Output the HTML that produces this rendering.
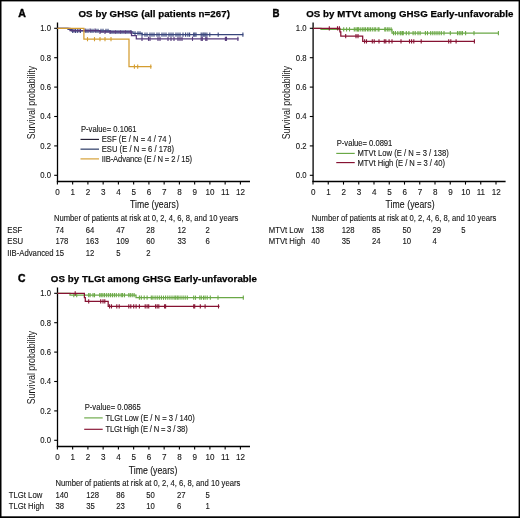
<!DOCTYPE html>
<html><head><meta charset="utf-8"><style>
html,body{margin:0;padding:0;background:#fff;}
svg{display:block;font-family:"Liberation Sans",sans-serif;filter:blur(0.3px);}
</style></head><body>
<svg width="520" height="518" viewBox="0 0 520 518">
<rect x="0" y="0" width="520" height="518" fill="#fff"/>
<text transform="translate(18.20,16.70) scale(0.9,1)" font-size="11.6" font-weight="bold" textLength="8.44" lengthAdjust="spacingAndGlyphs" fill="#000" stroke="#000" stroke-width="0.45">A</text>
<text transform="translate(78.50,17.30) scale(1.0,1)" font-size="9.7" font-weight="bold" textLength="151.40" lengthAdjust="spacing" fill="#000" stroke="#000" stroke-width="0.25">OS by GHSG (all patients n=267)</text>
<line x1="57.50" y1="22.50" x2="57.50" y2="182.10" stroke="#000" stroke-width="1.3"/>
<line x1="56.85" y1="181.50" x2="250.00" y2="181.50" stroke="#000" stroke-width="1.3"/>
<line x1="54.20" y1="175.30" x2="57.50" y2="175.30" stroke="#000" stroke-width="1.1"/>
<text transform="translate(51.00,178.15) scale(0.86,1)" font-size="9.0" text-anchor="end" fill="#151515" stroke="#151515" stroke-width="0.12">0.0</text>
<line x1="54.20" y1="145.90" x2="57.50" y2="145.90" stroke="#000" stroke-width="1.1"/>
<text transform="translate(51.00,148.75) scale(0.86,1)" font-size="9.0" text-anchor="end" fill="#151515" stroke="#151515" stroke-width="0.12">0.2</text>
<line x1="54.20" y1="116.50" x2="57.50" y2="116.50" stroke="#000" stroke-width="1.1"/>
<text transform="translate(51.00,119.35) scale(0.86,1)" font-size="9.0" text-anchor="end" fill="#151515" stroke="#151515" stroke-width="0.12">0.4</text>
<line x1="54.20" y1="87.10" x2="57.50" y2="87.10" stroke="#000" stroke-width="1.1"/>
<text transform="translate(51.00,89.95) scale(0.86,1)" font-size="9.0" text-anchor="end" fill="#151515" stroke="#151515" stroke-width="0.12">0.6</text>
<line x1="54.20" y1="57.70" x2="57.50" y2="57.70" stroke="#000" stroke-width="1.1"/>
<text transform="translate(51.00,60.55) scale(0.86,1)" font-size="9.0" text-anchor="end" fill="#151515" stroke="#151515" stroke-width="0.12">0.8</text>
<line x1="54.20" y1="28.30" x2="57.50" y2="28.30" stroke="#000" stroke-width="1.1"/>
<text transform="translate(51.00,31.15) scale(0.86,1)" font-size="9.0" text-anchor="end" fill="#151515" stroke="#151515" stroke-width="0.12">1.0</text>
<line x1="57.40" y1="181.50" x2="57.40" y2="184.60" stroke="#000" stroke-width="1.1"/>
<text transform="translate(57.55,195.00) scale(0.9,1)" font-size="9.0" text-anchor="middle" fill="#151515" stroke="#151515" stroke-width="0.12">0</text>
<line x1="72.65" y1="181.50" x2="72.65" y2="184.60" stroke="#000" stroke-width="1.1"/>
<text transform="translate(72.80,195.00) scale(0.9,1)" font-size="9.0" text-anchor="middle" fill="#151515" stroke="#151515" stroke-width="0.12">1</text>
<line x1="87.90" y1="181.50" x2="87.90" y2="184.60" stroke="#000" stroke-width="1.1"/>
<text transform="translate(88.05,195.00) scale(0.9,1)" font-size="9.0" text-anchor="middle" fill="#151515" stroke="#151515" stroke-width="0.12">2</text>
<line x1="103.15" y1="181.50" x2="103.15" y2="184.60" stroke="#000" stroke-width="1.1"/>
<text transform="translate(103.30,195.00) scale(0.9,1)" font-size="9.0" text-anchor="middle" fill="#151515" stroke="#151515" stroke-width="0.12">3</text>
<line x1="118.40" y1="181.50" x2="118.40" y2="184.60" stroke="#000" stroke-width="1.1"/>
<text transform="translate(118.55,195.00) scale(0.9,1)" font-size="9.0" text-anchor="middle" fill="#151515" stroke="#151515" stroke-width="0.12">4</text>
<line x1="133.65" y1="181.50" x2="133.65" y2="184.60" stroke="#000" stroke-width="1.1"/>
<text transform="translate(133.80,195.00) scale(0.9,1)" font-size="9.0" text-anchor="middle" fill="#151515" stroke="#151515" stroke-width="0.12">5</text>
<line x1="148.90" y1="181.50" x2="148.90" y2="184.60" stroke="#000" stroke-width="1.1"/>
<text transform="translate(149.05,195.00) scale(0.9,1)" font-size="9.0" text-anchor="middle" fill="#151515" stroke="#151515" stroke-width="0.12">6</text>
<line x1="164.15" y1="181.50" x2="164.15" y2="184.60" stroke="#000" stroke-width="1.1"/>
<text transform="translate(164.30,195.00) scale(0.9,1)" font-size="9.0" text-anchor="middle" fill="#151515" stroke="#151515" stroke-width="0.12">7</text>
<line x1="179.40" y1="181.50" x2="179.40" y2="184.60" stroke="#000" stroke-width="1.1"/>
<text transform="translate(179.55,195.00) scale(0.9,1)" font-size="9.0" text-anchor="middle" fill="#151515" stroke="#151515" stroke-width="0.12">8</text>
<line x1="194.65" y1="181.50" x2="194.65" y2="184.60" stroke="#000" stroke-width="1.1"/>
<text transform="translate(194.80,195.00) scale(0.9,1)" font-size="9.0" text-anchor="middle" fill="#151515" stroke="#151515" stroke-width="0.12">9</text>
<line x1="209.90" y1="181.50" x2="209.90" y2="184.60" stroke="#000" stroke-width="1.1"/>
<text transform="translate(210.05,195.00) scale(0.9,1)" font-size="9.0" text-anchor="middle" fill="#151515" stroke="#151515" stroke-width="0.12">10</text>
<line x1="225.15" y1="181.50" x2="225.15" y2="184.60" stroke="#000" stroke-width="1.1"/>
<text transform="translate(225.30,195.00) scale(0.9,1)" font-size="9.0" text-anchor="middle" fill="#151515" stroke="#151515" stroke-width="0.12">11</text>
<line x1="240.40" y1="181.50" x2="240.40" y2="184.60" stroke="#000" stroke-width="1.1"/>
<text transform="translate(240.55,195.00) scale(0.9,1)" font-size="9.0" text-anchor="middle" fill="#151515" stroke="#151515" stroke-width="0.12">12</text>
<text transform="translate(130.00,208.20) scale(0.85,1)" font-size="10.2" textLength="57.41" lengthAdjust="spacing" fill="#151515" stroke="#151515" stroke-width="0.12">Time (years)</text>
<text transform="translate(34.60,139.30) rotate(-90) scale(0.83,1)" font-size="10.2" textLength="88.55" lengthAdjust="spacingAndGlyphs" fill="#151515">Survival probability</text>
<path d="M57.40,28.30H68.00V29.33H71.50V30.80H110.00V31.98H133.00V33.45H142.00V34.62H243.30V34.62" fill="none" stroke="#38457c" stroke-width="1.25"/>
<line x1="72.70" y1="28.70" x2="72.70" y2="32.90" stroke="#38457c" stroke-width="1.1"/>
<line x1="75.40" y1="28.70" x2="75.40" y2="32.90" stroke="#38457c" stroke-width="1.1"/>
<line x1="77.30" y1="28.70" x2="77.30" y2="32.90" stroke="#38457c" stroke-width="1.1"/>
<line x1="80.40" y1="28.70" x2="80.40" y2="32.90" stroke="#38457c" stroke-width="1.1"/>
<line x1="86.00" y1="28.70" x2="86.00" y2="32.90" stroke="#38457c" stroke-width="1.1"/>
<line x1="88.00" y1="28.70" x2="88.00" y2="32.90" stroke="#38457c" stroke-width="1.1"/>
<line x1="91.00" y1="28.70" x2="91.00" y2="32.90" stroke="#38457c" stroke-width="1.1"/>
<line x1="93.00" y1="28.70" x2="93.00" y2="32.90" stroke="#38457c" stroke-width="1.1"/>
<line x1="96.00" y1="28.70" x2="96.00" y2="32.90" stroke="#38457c" stroke-width="1.1"/>
<line x1="98.00" y1="28.70" x2="98.00" y2="32.90" stroke="#38457c" stroke-width="1.1"/>
<line x1="101.00" y1="28.70" x2="101.00" y2="32.90" stroke="#38457c" stroke-width="1.1"/>
<line x1="103.00" y1="28.70" x2="103.00" y2="32.90" stroke="#38457c" stroke-width="1.1"/>
<line x1="106.00" y1="28.70" x2="106.00" y2="32.90" stroke="#38457c" stroke-width="1.1"/>
<line x1="108.00" y1="28.70" x2="108.00" y2="32.90" stroke="#38457c" stroke-width="1.1"/>
<line x1="111.00" y1="29.88" x2="111.00" y2="34.08" stroke="#38457c" stroke-width="1.1"/>
<line x1="113.00" y1="29.88" x2="113.00" y2="34.08" stroke="#38457c" stroke-width="1.1"/>
<line x1="116.00" y1="29.88" x2="116.00" y2="34.08" stroke="#38457c" stroke-width="1.1"/>
<line x1="118.00" y1="29.88" x2="118.00" y2="34.08" stroke="#38457c" stroke-width="1.1"/>
<line x1="121.00" y1="29.88" x2="121.00" y2="34.08" stroke="#38457c" stroke-width="1.1"/>
<line x1="123.00" y1="29.88" x2="123.00" y2="34.08" stroke="#38457c" stroke-width="1.1"/>
<line x1="126.00" y1="29.88" x2="126.00" y2="34.08" stroke="#38457c" stroke-width="1.1"/>
<line x1="128.00" y1="29.88" x2="128.00" y2="34.08" stroke="#38457c" stroke-width="1.1"/>
<line x1="131.00" y1="29.88" x2="131.00" y2="34.08" stroke="#38457c" stroke-width="1.1"/>
<line x1="135.00" y1="31.35" x2="135.00" y2="35.55" stroke="#38457c" stroke-width="1.1"/>
<line x1="138.00" y1="31.35" x2="138.00" y2="35.55" stroke="#38457c" stroke-width="1.1"/>
<line x1="140.00" y1="31.35" x2="140.00" y2="35.55" stroke="#38457c" stroke-width="1.1"/>
<line x1="142.00" y1="32.52" x2="142.00" y2="36.72" stroke="#38457c" stroke-width="1.1"/>
<line x1="145.00" y1="32.52" x2="145.00" y2="36.72" stroke="#38457c" stroke-width="1.1"/>
<line x1="147.00" y1="32.52" x2="147.00" y2="36.72" stroke="#38457c" stroke-width="1.1"/>
<line x1="150.00" y1="32.52" x2="150.00" y2="36.72" stroke="#38457c" stroke-width="1.1"/>
<line x1="152.00" y1="32.52" x2="152.00" y2="36.72" stroke="#38457c" stroke-width="1.1"/>
<line x1="154.00" y1="32.52" x2="154.00" y2="36.72" stroke="#38457c" stroke-width="1.1"/>
<line x1="157.00" y1="32.52" x2="157.00" y2="36.72" stroke="#38457c" stroke-width="1.1"/>
<line x1="159.00" y1="32.52" x2="159.00" y2="36.72" stroke="#38457c" stroke-width="1.1"/>
<line x1="162.00" y1="32.52" x2="162.00" y2="36.72" stroke="#38457c" stroke-width="1.1"/>
<line x1="164.00" y1="32.52" x2="164.00" y2="36.72" stroke="#38457c" stroke-width="1.1"/>
<line x1="166.00" y1="32.52" x2="166.00" y2="36.72" stroke="#38457c" stroke-width="1.1"/>
<line x1="169.00" y1="32.52" x2="169.00" y2="36.72" stroke="#38457c" stroke-width="1.1"/>
<line x1="171.00" y1="32.52" x2="171.00" y2="36.72" stroke="#38457c" stroke-width="1.1"/>
<line x1="173.00" y1="32.52" x2="173.00" y2="36.72" stroke="#38457c" stroke-width="1.1"/>
<line x1="176.00" y1="32.52" x2="176.00" y2="36.72" stroke="#38457c" stroke-width="1.1"/>
<line x1="178.00" y1="32.52" x2="178.00" y2="36.72" stroke="#38457c" stroke-width="1.1"/>
<line x1="180.00" y1="32.52" x2="180.00" y2="36.72" stroke="#38457c" stroke-width="1.1"/>
<line x1="183.00" y1="32.52" x2="183.00" y2="36.72" stroke="#38457c" stroke-width="1.1"/>
<line x1="185.60" y1="32.52" x2="185.60" y2="36.72" stroke="#38457c" stroke-width="1.1"/>
<line x1="187.90" y1="32.52" x2="187.90" y2="36.72" stroke="#38457c" stroke-width="1.1"/>
<line x1="189.60" y1="32.52" x2="189.60" y2="36.72" stroke="#38457c" stroke-width="1.1"/>
<line x1="193.70" y1="32.52" x2="193.70" y2="36.72" stroke="#38457c" stroke-width="1.1"/>
<line x1="194.80" y1="32.52" x2="194.80" y2="36.72" stroke="#38457c" stroke-width="1.1"/>
<line x1="196.00" y1="32.52" x2="196.00" y2="36.72" stroke="#38457c" stroke-width="1.1"/>
<line x1="201.20" y1="32.52" x2="201.20" y2="36.72" stroke="#38457c" stroke-width="1.1"/>
<line x1="202.90" y1="32.52" x2="202.90" y2="36.72" stroke="#38457c" stroke-width="1.1"/>
<line x1="204.00" y1="32.52" x2="204.00" y2="36.72" stroke="#38457c" stroke-width="1.1"/>
<line x1="205.20" y1="32.52" x2="205.20" y2="36.72" stroke="#38457c" stroke-width="1.1"/>
<line x1="206.90" y1="32.52" x2="206.90" y2="36.72" stroke="#38457c" stroke-width="1.1"/>
<line x1="209.80" y1="32.52" x2="209.80" y2="36.72" stroke="#38457c" stroke-width="1.1"/>
<line x1="218.20" y1="32.52" x2="218.20" y2="36.72" stroke="#38457c" stroke-width="1.1"/>
<line x1="242.90" y1="32.52" x2="242.90" y2="36.72" stroke="#38457c" stroke-width="1.1"/>
<path d="M57.40,28.30H70.00V30.51H100.00V31.98H131.50V35.65H136.30V38.78H238.60V38.78" fill="none" stroke="#553a7c" stroke-width="1.25"/>
<line x1="74.00" y1="28.41" x2="74.00" y2="32.61" stroke="#553a7c" stroke-width="1.1"/>
<line x1="79.00" y1="28.41" x2="79.00" y2="32.61" stroke="#553a7c" stroke-width="1.1"/>
<line x1="85.00" y1="28.41" x2="85.00" y2="32.61" stroke="#553a7c" stroke-width="1.1"/>
<line x1="90.00" y1="28.41" x2="90.00" y2="32.61" stroke="#553a7c" stroke-width="1.1"/>
<line x1="95.00" y1="28.41" x2="95.00" y2="32.61" stroke="#553a7c" stroke-width="1.1"/>
<line x1="100.00" y1="29.88" x2="100.00" y2="34.08" stroke="#553a7c" stroke-width="1.1"/>
<line x1="105.00" y1="29.88" x2="105.00" y2="34.08" stroke="#553a7c" stroke-width="1.1"/>
<line x1="110.00" y1="29.88" x2="110.00" y2="34.08" stroke="#553a7c" stroke-width="1.1"/>
<line x1="115.00" y1="29.88" x2="115.00" y2="34.08" stroke="#553a7c" stroke-width="1.1"/>
<line x1="120.00" y1="29.88" x2="120.00" y2="34.08" stroke="#553a7c" stroke-width="1.1"/>
<line x1="125.00" y1="29.88" x2="125.00" y2="34.08" stroke="#553a7c" stroke-width="1.1"/>
<line x1="130.00" y1="29.88" x2="130.00" y2="34.08" stroke="#553a7c" stroke-width="1.1"/>
<line x1="142.00" y1="36.68" x2="142.00" y2="40.88" stroke="#553a7c" stroke-width="1.1"/>
<line x1="148.50" y1="36.68" x2="148.50" y2="40.88" stroke="#553a7c" stroke-width="1.1"/>
<line x1="150.00" y1="36.68" x2="150.00" y2="40.88" stroke="#553a7c" stroke-width="1.1"/>
<line x1="158.00" y1="36.68" x2="158.00" y2="40.88" stroke="#553a7c" stroke-width="1.1"/>
<line x1="160.00" y1="36.68" x2="160.00" y2="40.88" stroke="#553a7c" stroke-width="1.1"/>
<line x1="168.00" y1="36.68" x2="168.00" y2="40.88" stroke="#553a7c" stroke-width="1.1"/>
<line x1="171.00" y1="36.68" x2="171.00" y2="40.88" stroke="#553a7c" stroke-width="1.1"/>
<line x1="174.00" y1="36.68" x2="174.00" y2="40.88" stroke="#553a7c" stroke-width="1.1"/>
<line x1="178.00" y1="36.68" x2="178.00" y2="40.88" stroke="#553a7c" stroke-width="1.1"/>
<line x1="180.00" y1="36.68" x2="180.00" y2="40.88" stroke="#553a7c" stroke-width="1.1"/>
<line x1="182.00" y1="36.68" x2="182.00" y2="40.88" stroke="#553a7c" stroke-width="1.1"/>
<line x1="192.50" y1="36.68" x2="192.50" y2="40.88" stroke="#553a7c" stroke-width="1.1"/>
<line x1="201.20" y1="36.68" x2="201.20" y2="40.88" stroke="#553a7c" stroke-width="1.1"/>
<line x1="202.30" y1="36.68" x2="202.30" y2="40.88" stroke="#553a7c" stroke-width="1.1"/>
<line x1="205.80" y1="36.68" x2="205.80" y2="40.88" stroke="#553a7c" stroke-width="1.1"/>
<line x1="206.90" y1="36.68" x2="206.90" y2="40.88" stroke="#553a7c" stroke-width="1.1"/>
<line x1="225.40" y1="36.68" x2="225.40" y2="40.88" stroke="#553a7c" stroke-width="1.1"/>
<line x1="226.50" y1="36.68" x2="226.50" y2="40.88" stroke="#553a7c" stroke-width="1.1"/>
<line x1="237.90" y1="36.68" x2="237.90" y2="40.88" stroke="#553a7c" stroke-width="1.1"/>
<path d="M57.40,28.30H83.90V39.18H129.00V66.67H151.50V66.67" fill="none" stroke="#d49d30" stroke-width="1.25"/>
<line x1="87.50" y1="37.08" x2="87.50" y2="41.28" stroke="#d49d30" stroke-width="1.1"/>
<line x1="94.50" y1="37.08" x2="94.50" y2="41.28" stroke="#d49d30" stroke-width="1.1"/>
<line x1="100.00" y1="37.08" x2="100.00" y2="41.28" stroke="#d49d30" stroke-width="1.1"/>
<line x1="105.00" y1="37.08" x2="105.00" y2="41.28" stroke="#d49d30" stroke-width="1.1"/>
<line x1="111.00" y1="37.08" x2="111.00" y2="41.28" stroke="#d49d30" stroke-width="1.1"/>
<line x1="134.40" y1="64.57" x2="134.40" y2="68.77" stroke="#d49d30" stroke-width="1.1"/>
<line x1="137.70" y1="64.57" x2="137.70" y2="68.77" stroke="#d49d30" stroke-width="1.1"/>
<line x1="150.80" y1="64.57" x2="150.80" y2="68.77" stroke="#d49d30" stroke-width="1.1"/>
<text transform="translate(81.00,132.10) scale(0.85,1)" font-size="9.0" textLength="65.41" lengthAdjust="spacing" fill="#151515" stroke="#151515" stroke-width="0.12">P-value= 0.1061</text>
<line x1="80.50" y1="139.40" x2="99.00" y2="139.40" stroke="#252035" stroke-width="1.15"/>
<text transform="translate(101.70,142.40) scale(0.85,1)" font-size="9.0" textLength="81.88" lengthAdjust="spacing" fill="#151515" stroke="#151515" stroke-width="0.12">ESF (E / N = 4 / 74 )</text>
<line x1="80.50" y1="149.15" x2="99.00" y2="149.15" stroke="#223260" stroke-width="1.15"/>
<text transform="translate(101.70,152.15) scale(0.85,1)" font-size="9.0" textLength="85.18" lengthAdjust="spacing" fill="#151515" stroke="#151515" stroke-width="0.12">ESU (E / N = 6 / 178)</text>
<line x1="80.50" y1="158.90" x2="99.00" y2="158.90" stroke="#d49d30" stroke-width="1.15"/>
<text transform="translate(101.70,161.90) scale(0.85,1)" font-size="9.0" textLength="106.35" lengthAdjust="spacing" fill="#151515" stroke="#151515" stroke-width="0.12">IIB-Advance (E / N = 2 / 15)</text>
<text transform="translate(54.00,221.30) scale(0.85,1)" font-size="9.0" textLength="216.82" lengthAdjust="spacing" fill="#151515" stroke="#151515" stroke-width="0.12">Number of patients at risk at 0, 2, 4, 6, 8, and 10 years</text>
<text transform="translate(7.30,232.60) scale(0.86,1)" font-size="9.0" fill="#151515" stroke="#151515" stroke-width="0.12">ESF</text>
<text transform="translate(55.50,232.60) scale(0.86,1)" font-size="9.0" fill="#151515" stroke="#151515" stroke-width="0.12">74</text>
<text transform="translate(85.80,232.60) scale(0.86,1)" font-size="9.0" fill="#151515" stroke="#151515" stroke-width="0.12">64</text>
<text transform="translate(116.20,232.60) scale(0.86,1)" font-size="9.0" fill="#151515" stroke="#151515" stroke-width="0.12">47</text>
<text transform="translate(146.30,232.60) scale(0.86,1)" font-size="9.0" fill="#151515" stroke="#151515" stroke-width="0.12">28</text>
<text transform="translate(177.50,232.60) scale(0.86,1)" font-size="9.0" fill="#151515" stroke="#151515" stroke-width="0.12">12</text>
<text transform="translate(205.60,232.60) scale(0.86,1)" font-size="9.0" fill="#151515" stroke="#151515" stroke-width="0.12">2</text>
<text transform="translate(7.30,244.35) scale(0.86,1)" font-size="9.0" fill="#151515" stroke="#151515" stroke-width="0.12">ESU</text>
<text transform="translate(55.50,244.35) scale(0.86,1)" font-size="9.0" fill="#151515" stroke="#151515" stroke-width="0.12">178</text>
<text transform="translate(85.80,244.35) scale(0.86,1)" font-size="9.0" fill="#151515" stroke="#151515" stroke-width="0.12">163</text>
<text transform="translate(116.20,244.35) scale(0.86,1)" font-size="9.0" fill="#151515" stroke="#151515" stroke-width="0.12">109</text>
<text transform="translate(146.30,244.35) scale(0.86,1)" font-size="9.0" fill="#151515" stroke="#151515" stroke-width="0.12">60</text>
<text transform="translate(177.50,244.35) scale(0.86,1)" font-size="9.0" fill="#151515" stroke="#151515" stroke-width="0.12">33</text>
<text transform="translate(205.60,244.35) scale(0.86,1)" font-size="9.0" fill="#151515" stroke="#151515" stroke-width="0.12">6</text>
<text transform="translate(7.30,256.10) scale(0.86,1)" font-size="9.0" fill="#151515" stroke="#151515" stroke-width="0.12">IIB-Advanced</text>
<text transform="translate(55.50,256.10) scale(0.86,1)" font-size="9.0" fill="#151515" stroke="#151515" stroke-width="0.12">15</text>
<text transform="translate(85.80,256.10) scale(0.86,1)" font-size="9.0" fill="#151515" stroke="#151515" stroke-width="0.12">12</text>
<text transform="translate(116.20,256.10) scale(0.86,1)" font-size="9.0" fill="#151515" stroke="#151515" stroke-width="0.12">5</text>
<text transform="translate(146.30,256.10) scale(0.86,1)" font-size="9.0" fill="#151515" stroke="#151515" stroke-width="0.12">2</text>
<text transform="translate(272.50,16.70) scale(0.9,1)" font-size="11.6" font-weight="bold" textLength="7.78" lengthAdjust="spacingAndGlyphs" fill="#000" stroke="#000" stroke-width="0.45">B</text>
<text transform="translate(306.20,17.30) scale(1.0,1)" font-size="9.7" font-weight="bold" textLength="207.30" lengthAdjust="spacing" fill="#000" stroke="#000" stroke-width="0.25">OS by MTVt among GHSG Early-unfavorable</text>
<line x1="313.10" y1="22.50" x2="313.10" y2="182.10" stroke="#000" stroke-width="1.3"/>
<line x1="312.45" y1="181.50" x2="505.60" y2="181.50" stroke="#000" stroke-width="1.3"/>
<line x1="309.80" y1="175.30" x2="313.10" y2="175.30" stroke="#000" stroke-width="1.1"/>
<text transform="translate(306.60,178.15) scale(0.86,1)" font-size="9.0" text-anchor="end" fill="#151515" stroke="#151515" stroke-width="0.12">0.0</text>
<line x1="309.80" y1="145.90" x2="313.10" y2="145.90" stroke="#000" stroke-width="1.1"/>
<text transform="translate(306.60,148.75) scale(0.86,1)" font-size="9.0" text-anchor="end" fill="#151515" stroke="#151515" stroke-width="0.12">0.2</text>
<line x1="309.80" y1="116.50" x2="313.10" y2="116.50" stroke="#000" stroke-width="1.1"/>
<text transform="translate(306.60,119.35) scale(0.86,1)" font-size="9.0" text-anchor="end" fill="#151515" stroke="#151515" stroke-width="0.12">0.4</text>
<line x1="309.80" y1="87.10" x2="313.10" y2="87.10" stroke="#000" stroke-width="1.1"/>
<text transform="translate(306.60,89.95) scale(0.86,1)" font-size="9.0" text-anchor="end" fill="#151515" stroke="#151515" stroke-width="0.12">0.6</text>
<line x1="309.80" y1="57.70" x2="313.10" y2="57.70" stroke="#000" stroke-width="1.1"/>
<text transform="translate(306.60,60.55) scale(0.86,1)" font-size="9.0" text-anchor="end" fill="#151515" stroke="#151515" stroke-width="0.12">0.8</text>
<line x1="309.80" y1="28.30" x2="313.10" y2="28.30" stroke="#000" stroke-width="1.1"/>
<text transform="translate(306.60,31.15) scale(0.86,1)" font-size="9.0" text-anchor="end" fill="#151515" stroke="#151515" stroke-width="0.12">1.0</text>
<line x1="313.00" y1="181.50" x2="313.00" y2="184.60" stroke="#000" stroke-width="1.1"/>
<text transform="translate(313.15,195.00) scale(0.9,1)" font-size="9.0" text-anchor="middle" fill="#151515" stroke="#151515" stroke-width="0.12">0</text>
<line x1="328.25" y1="181.50" x2="328.25" y2="184.60" stroke="#000" stroke-width="1.1"/>
<text transform="translate(328.40,195.00) scale(0.9,1)" font-size="9.0" text-anchor="middle" fill="#151515" stroke="#151515" stroke-width="0.12">1</text>
<line x1="343.50" y1="181.50" x2="343.50" y2="184.60" stroke="#000" stroke-width="1.1"/>
<text transform="translate(343.65,195.00) scale(0.9,1)" font-size="9.0" text-anchor="middle" fill="#151515" stroke="#151515" stroke-width="0.12">2</text>
<line x1="358.75" y1="181.50" x2="358.75" y2="184.60" stroke="#000" stroke-width="1.1"/>
<text transform="translate(358.90,195.00) scale(0.9,1)" font-size="9.0" text-anchor="middle" fill="#151515" stroke="#151515" stroke-width="0.12">3</text>
<line x1="374.00" y1="181.50" x2="374.00" y2="184.60" stroke="#000" stroke-width="1.1"/>
<text transform="translate(374.15,195.00) scale(0.9,1)" font-size="9.0" text-anchor="middle" fill="#151515" stroke="#151515" stroke-width="0.12">4</text>
<line x1="389.25" y1="181.50" x2="389.25" y2="184.60" stroke="#000" stroke-width="1.1"/>
<text transform="translate(389.40,195.00) scale(0.9,1)" font-size="9.0" text-anchor="middle" fill="#151515" stroke="#151515" stroke-width="0.12">5</text>
<line x1="404.50" y1="181.50" x2="404.50" y2="184.60" stroke="#000" stroke-width="1.1"/>
<text transform="translate(404.65,195.00) scale(0.9,1)" font-size="9.0" text-anchor="middle" fill="#151515" stroke="#151515" stroke-width="0.12">6</text>
<line x1="419.75" y1="181.50" x2="419.75" y2="184.60" stroke="#000" stroke-width="1.1"/>
<text transform="translate(419.90,195.00) scale(0.9,1)" font-size="9.0" text-anchor="middle" fill="#151515" stroke="#151515" stroke-width="0.12">7</text>
<line x1="435.00" y1="181.50" x2="435.00" y2="184.60" stroke="#000" stroke-width="1.1"/>
<text transform="translate(435.15,195.00) scale(0.9,1)" font-size="9.0" text-anchor="middle" fill="#151515" stroke="#151515" stroke-width="0.12">8</text>
<line x1="450.25" y1="181.50" x2="450.25" y2="184.60" stroke="#000" stroke-width="1.1"/>
<text transform="translate(450.40,195.00) scale(0.9,1)" font-size="9.0" text-anchor="middle" fill="#151515" stroke="#151515" stroke-width="0.12">9</text>
<line x1="465.50" y1="181.50" x2="465.50" y2="184.60" stroke="#000" stroke-width="1.1"/>
<text transform="translate(465.65,195.00) scale(0.9,1)" font-size="9.0" text-anchor="middle" fill="#151515" stroke="#151515" stroke-width="0.12">10</text>
<line x1="480.75" y1="181.50" x2="480.75" y2="184.60" stroke="#000" stroke-width="1.1"/>
<text transform="translate(480.90,195.00) scale(0.9,1)" font-size="9.0" text-anchor="middle" fill="#151515" stroke="#151515" stroke-width="0.12">11</text>
<line x1="496.00" y1="181.50" x2="496.00" y2="184.60" stroke="#000" stroke-width="1.1"/>
<text transform="translate(496.15,195.00) scale(0.9,1)" font-size="9.0" text-anchor="middle" fill="#151515" stroke="#151515" stroke-width="0.12">12</text>
<text transform="translate(385.50,208.20) scale(0.85,1)" font-size="10.2" textLength="57.76" lengthAdjust="spacing" fill="#151515" stroke="#151515" stroke-width="0.12">Time (years)</text>
<text transform="translate(290.20,139.30) rotate(-90) scale(0.83,1)" font-size="10.2" textLength="88.55" lengthAdjust="spacingAndGlyphs" fill="#151515">Survival probability</text>
<path d="M313.00,28.30H321.00V29.33H392.00V33.15H498.60V33.15" fill="none" stroke="#6aa846" stroke-width="1.25"/>
<line x1="343.70" y1="27.23" x2="343.70" y2="31.43" stroke="#6aa846" stroke-width="1.1"/>
<line x1="346.60" y1="27.23" x2="346.60" y2="31.43" stroke="#6aa846" stroke-width="1.1"/>
<line x1="349.50" y1="27.23" x2="349.50" y2="31.43" stroke="#6aa846" stroke-width="1.1"/>
<line x1="354.30" y1="27.23" x2="354.30" y2="31.43" stroke="#6aa846" stroke-width="1.1"/>
<line x1="356.00" y1="27.23" x2="356.00" y2="31.43" stroke="#6aa846" stroke-width="1.1"/>
<line x1="357.40" y1="27.23" x2="357.40" y2="31.43" stroke="#6aa846" stroke-width="1.1"/>
<line x1="358.20" y1="27.23" x2="358.20" y2="31.43" stroke="#6aa846" stroke-width="1.1"/>
<line x1="358.80" y1="27.23" x2="358.80" y2="31.43" stroke="#6aa846" stroke-width="1.1"/>
<line x1="360.80" y1="27.23" x2="360.80" y2="31.43" stroke="#6aa846" stroke-width="1.1"/>
<line x1="362.70" y1="27.23" x2="362.70" y2="31.43" stroke="#6aa846" stroke-width="1.1"/>
<line x1="364.10" y1="27.23" x2="364.10" y2="31.43" stroke="#6aa846" stroke-width="1.1"/>
<line x1="365.60" y1="27.23" x2="365.60" y2="31.43" stroke="#6aa846" stroke-width="1.1"/>
<line x1="367.50" y1="27.23" x2="367.50" y2="31.43" stroke="#6aa846" stroke-width="1.1"/>
<line x1="368.90" y1="27.23" x2="368.90" y2="31.43" stroke="#6aa846" stroke-width="1.1"/>
<line x1="370.40" y1="27.23" x2="370.40" y2="31.43" stroke="#6aa846" stroke-width="1.1"/>
<line x1="372.30" y1="27.23" x2="372.30" y2="31.43" stroke="#6aa846" stroke-width="1.1"/>
<line x1="374.20" y1="27.23" x2="374.20" y2="31.43" stroke="#6aa846" stroke-width="1.1"/>
<line x1="375.70" y1="27.23" x2="375.70" y2="31.43" stroke="#6aa846" stroke-width="1.1"/>
<line x1="378.10" y1="27.23" x2="378.10" y2="31.43" stroke="#6aa846" stroke-width="1.1"/>
<line x1="379.00" y1="27.23" x2="379.00" y2="31.43" stroke="#6aa846" stroke-width="1.1"/>
<line x1="384.80" y1="27.23" x2="384.80" y2="31.43" stroke="#6aa846" stroke-width="1.1"/>
<line x1="385.80" y1="27.23" x2="385.80" y2="31.43" stroke="#6aa846" stroke-width="1.1"/>
<line x1="387.70" y1="27.23" x2="387.70" y2="31.43" stroke="#6aa846" stroke-width="1.1"/>
<line x1="389.10" y1="27.23" x2="389.10" y2="31.43" stroke="#6aa846" stroke-width="1.1"/>
<line x1="391.10" y1="27.23" x2="391.10" y2="31.43" stroke="#6aa846" stroke-width="1.1"/>
<line x1="393.50" y1="31.05" x2="393.50" y2="35.25" stroke="#6aa846" stroke-width="1.1"/>
<line x1="395.40" y1="31.05" x2="395.40" y2="35.25" stroke="#6aa846" stroke-width="1.1"/>
<line x1="397.80" y1="31.05" x2="397.80" y2="35.25" stroke="#6aa846" stroke-width="1.1"/>
<line x1="400.20" y1="31.05" x2="400.20" y2="35.25" stroke="#6aa846" stroke-width="1.1"/>
<line x1="401.00" y1="31.05" x2="401.00" y2="35.25" stroke="#6aa846" stroke-width="1.1"/>
<line x1="402.60" y1="31.05" x2="402.60" y2="35.25" stroke="#6aa846" stroke-width="1.1"/>
<line x1="403.20" y1="31.05" x2="403.20" y2="35.25" stroke="#6aa846" stroke-width="1.1"/>
<line x1="406.30" y1="31.05" x2="406.30" y2="35.25" stroke="#6aa846" stroke-width="1.1"/>
<line x1="408.90" y1="31.05" x2="408.90" y2="35.25" stroke="#6aa846" stroke-width="1.1"/>
<line x1="413.10" y1="31.05" x2="413.10" y2="35.25" stroke="#6aa846" stroke-width="1.1"/>
<line x1="415.20" y1="31.05" x2="415.20" y2="35.25" stroke="#6aa846" stroke-width="1.1"/>
<line x1="418.00" y1="31.05" x2="418.00" y2="35.25" stroke="#6aa846" stroke-width="1.1"/>
<line x1="420.10" y1="31.05" x2="420.10" y2="35.25" stroke="#6aa846" stroke-width="1.1"/>
<line x1="425.40" y1="31.05" x2="425.40" y2="35.25" stroke="#6aa846" stroke-width="1.1"/>
<line x1="427.50" y1="31.05" x2="427.50" y2="35.25" stroke="#6aa846" stroke-width="1.1"/>
<line x1="430.70" y1="31.05" x2="430.70" y2="35.25" stroke="#6aa846" stroke-width="1.1"/>
<line x1="432.80" y1="31.05" x2="432.80" y2="35.25" stroke="#6aa846" stroke-width="1.1"/>
<line x1="434.90" y1="31.05" x2="434.90" y2="35.25" stroke="#6aa846" stroke-width="1.1"/>
<line x1="437.00" y1="31.05" x2="437.00" y2="35.25" stroke="#6aa846" stroke-width="1.1"/>
<line x1="439.10" y1="31.05" x2="439.10" y2="35.25" stroke="#6aa846" stroke-width="1.1"/>
<line x1="441.30" y1="31.05" x2="441.30" y2="35.25" stroke="#6aa846" stroke-width="1.1"/>
<line x1="444.00" y1="31.05" x2="444.00" y2="35.25" stroke="#6aa846" stroke-width="1.1"/>
<line x1="450.30" y1="31.05" x2="450.30" y2="35.25" stroke="#6aa846" stroke-width="1.1"/>
<line x1="457.50" y1="31.05" x2="457.50" y2="35.25" stroke="#6aa846" stroke-width="1.1"/>
<line x1="459.20" y1="31.05" x2="459.20" y2="35.25" stroke="#6aa846" stroke-width="1.1"/>
<line x1="460.90" y1="31.05" x2="460.90" y2="35.25" stroke="#6aa846" stroke-width="1.1"/>
<line x1="462.40" y1="31.05" x2="462.40" y2="35.25" stroke="#6aa846" stroke-width="1.1"/>
<line x1="465.60" y1="31.05" x2="465.60" y2="35.25" stroke="#6aa846" stroke-width="1.1"/>
<line x1="474.00" y1="31.05" x2="474.00" y2="35.25" stroke="#6aa846" stroke-width="1.1"/>
<line x1="498.40" y1="31.05" x2="498.40" y2="35.25" stroke="#6aa846" stroke-width="1.1"/>
<path d="M313.00,28.30H339.90V31.98H340.80V36.09H362.70V41.38H474.60V41.38" fill="none" stroke="#861232" stroke-width="1.25"/>
<line x1="329.30" y1="26.20" x2="329.30" y2="30.40" stroke="#861232" stroke-width="1.1"/>
<line x1="337.50" y1="26.20" x2="337.50" y2="30.40" stroke="#861232" stroke-width="1.1"/>
<line x1="339.40" y1="26.20" x2="339.40" y2="30.40" stroke="#861232" stroke-width="1.1"/>
<line x1="345.70" y1="33.99" x2="345.70" y2="38.19" stroke="#861232" stroke-width="1.1"/>
<line x1="356.00" y1="33.99" x2="356.00" y2="38.19" stroke="#861232" stroke-width="1.1"/>
<line x1="358.00" y1="33.99" x2="358.00" y2="38.19" stroke="#861232" stroke-width="1.1"/>
<line x1="364.60" y1="39.28" x2="364.60" y2="43.48" stroke="#861232" stroke-width="1.1"/>
<line x1="366.50" y1="39.28" x2="366.50" y2="43.48" stroke="#861232" stroke-width="1.1"/>
<line x1="372.30" y1="39.28" x2="372.30" y2="43.48" stroke="#861232" stroke-width="1.1"/>
<line x1="374.20" y1="39.28" x2="374.20" y2="43.48" stroke="#861232" stroke-width="1.1"/>
<line x1="379.00" y1="39.28" x2="379.00" y2="43.48" stroke="#861232" stroke-width="1.1"/>
<line x1="384.30" y1="39.28" x2="384.30" y2="43.48" stroke="#861232" stroke-width="1.1"/>
<line x1="385.80" y1="39.28" x2="385.80" y2="43.48" stroke="#861232" stroke-width="1.1"/>
<line x1="389.10" y1="39.28" x2="389.10" y2="43.48" stroke="#861232" stroke-width="1.1"/>
<line x1="392.00" y1="39.28" x2="392.00" y2="43.48" stroke="#861232" stroke-width="1.1"/>
<line x1="401.00" y1="39.28" x2="401.00" y2="43.48" stroke="#861232" stroke-width="1.1"/>
<line x1="409.50" y1="39.28" x2="409.50" y2="43.48" stroke="#861232" stroke-width="1.1"/>
<line x1="411.60" y1="39.28" x2="411.60" y2="43.48" stroke="#861232" stroke-width="1.1"/>
<line x1="413.80" y1="39.28" x2="413.80" y2="43.48" stroke="#861232" stroke-width="1.1"/>
<line x1="421.20" y1="39.28" x2="421.20" y2="43.48" stroke="#861232" stroke-width="1.1"/>
<line x1="448.70" y1="39.28" x2="448.70" y2="43.48" stroke="#861232" stroke-width="1.1"/>
<line x1="450.80" y1="39.28" x2="450.80" y2="43.48" stroke="#861232" stroke-width="1.1"/>
<line x1="456.10" y1="39.28" x2="456.10" y2="43.48" stroke="#861232" stroke-width="1.1"/>
<line x1="474.40" y1="39.28" x2="474.40" y2="43.48" stroke="#861232" stroke-width="1.1"/>
<text transform="translate(336.75,145.60) scale(0.85,1)" font-size="9.0" textLength="65.41" lengthAdjust="spacing" fill="#151515" stroke="#151515" stroke-width="0.12">P-value= 0.0891</text>
<line x1="336.25" y1="153.40" x2="354.75" y2="153.40" stroke="#6aa846" stroke-width="1.15"/>
<text transform="translate(357.45,156.40) scale(0.85,1)" font-size="9.0" textLength="107.41" lengthAdjust="spacing" fill="#151515" stroke="#151515" stroke-width="0.12">MTVt Low (E / N = 3 / 138)</text>
<line x1="336.25" y1="162.60" x2="354.75" y2="162.60" stroke="#861232" stroke-width="1.15"/>
<text transform="translate(357.45,165.60) scale(0.85,1)" font-size="9.0" textLength="103.00" lengthAdjust="spacing" fill="#151515" stroke="#151515" stroke-width="0.12">MTVt High (E / N = 3 / 40)</text>
<text transform="translate(311.75,221.30) scale(0.85,1)" font-size="9.0" textLength="217.06" lengthAdjust="spacing" fill="#151515" stroke="#151515" stroke-width="0.12">Number of patients at risk at 0, 2, 4, 6, 8, and 10 years</text>
<text transform="translate(268.75,232.60) scale(0.86,1)" font-size="9.0" fill="#151515" stroke="#151515" stroke-width="0.12">MTVt Low</text>
<text transform="translate(311.25,232.60) scale(0.86,1)" font-size="9.0" fill="#151515" stroke="#151515" stroke-width="0.12">138</text>
<text transform="translate(341.75,232.60) scale(0.86,1)" font-size="9.0" fill="#151515" stroke="#151515" stroke-width="0.12">128</text>
<text transform="translate(372.00,232.60) scale(0.86,1)" font-size="9.0" fill="#151515" stroke="#151515" stroke-width="0.12">85</text>
<text transform="translate(402.50,232.60) scale(0.86,1)" font-size="9.0" fill="#151515" stroke="#151515" stroke-width="0.12">50</text>
<text transform="translate(432.50,232.60) scale(0.86,1)" font-size="9.0" fill="#151515" stroke="#151515" stroke-width="0.12">29</text>
<text transform="translate(461.25,232.60) scale(0.86,1)" font-size="9.0" fill="#151515" stroke="#151515" stroke-width="0.12">5</text>
<text transform="translate(268.75,244.35) scale(0.86,1)" font-size="9.0" fill="#151515" stroke="#151515" stroke-width="0.12">MTVt High</text>
<text transform="translate(311.25,244.35) scale(0.86,1)" font-size="9.0" fill="#151515" stroke="#151515" stroke-width="0.12">40</text>
<text transform="translate(341.75,244.35) scale(0.86,1)" font-size="9.0" fill="#151515" stroke="#151515" stroke-width="0.12">35</text>
<text transform="translate(372.00,244.35) scale(0.86,1)" font-size="9.0" fill="#151515" stroke="#151515" stroke-width="0.12">24</text>
<text transform="translate(402.50,244.35) scale(0.86,1)" font-size="9.0" fill="#151515" stroke="#151515" stroke-width="0.12">10</text>
<text transform="translate(432.50,244.35) scale(0.86,1)" font-size="9.0" fill="#151515" stroke="#151515" stroke-width="0.12">4</text>
<text transform="translate(18.00,281.70) scale(0.9,1)" font-size="11.6" font-weight="bold" textLength="8.33" lengthAdjust="spacingAndGlyphs" fill="#000" stroke="#000" stroke-width="0.45">C</text>
<text transform="translate(50.80,282.30) scale(1.0,1)" font-size="9.7" font-weight="bold" textLength="206.20" lengthAdjust="spacing" fill="#000" stroke="#000" stroke-width="0.25">OS by TLGt among GHSG Early-unfavorable</text>
<line x1="57.50" y1="287.50" x2="57.50" y2="447.10" stroke="#000" stroke-width="1.3"/>
<line x1="56.85" y1="446.50" x2="250.00" y2="446.50" stroke="#000" stroke-width="1.3"/>
<line x1="54.20" y1="440.30" x2="57.50" y2="440.30" stroke="#000" stroke-width="1.1"/>
<text transform="translate(51.00,443.15) scale(0.86,1)" font-size="9.0" text-anchor="end" fill="#151515" stroke="#151515" stroke-width="0.12">0.0</text>
<line x1="54.20" y1="410.90" x2="57.50" y2="410.90" stroke="#000" stroke-width="1.1"/>
<text transform="translate(51.00,413.75) scale(0.86,1)" font-size="9.0" text-anchor="end" fill="#151515" stroke="#151515" stroke-width="0.12">0.2</text>
<line x1="54.20" y1="381.50" x2="57.50" y2="381.50" stroke="#000" stroke-width="1.1"/>
<text transform="translate(51.00,384.35) scale(0.86,1)" font-size="9.0" text-anchor="end" fill="#151515" stroke="#151515" stroke-width="0.12">0.4</text>
<line x1="54.20" y1="352.10" x2="57.50" y2="352.10" stroke="#000" stroke-width="1.1"/>
<text transform="translate(51.00,354.95) scale(0.86,1)" font-size="9.0" text-anchor="end" fill="#151515" stroke="#151515" stroke-width="0.12">0.6</text>
<line x1="54.20" y1="322.70" x2="57.50" y2="322.70" stroke="#000" stroke-width="1.1"/>
<text transform="translate(51.00,325.55) scale(0.86,1)" font-size="9.0" text-anchor="end" fill="#151515" stroke="#151515" stroke-width="0.12">0.8</text>
<line x1="54.20" y1="293.30" x2="57.50" y2="293.30" stroke="#000" stroke-width="1.1"/>
<text transform="translate(51.00,296.15) scale(0.86,1)" font-size="9.0" text-anchor="end" fill="#151515" stroke="#151515" stroke-width="0.12">1.0</text>
<line x1="57.40" y1="446.50" x2="57.40" y2="449.60" stroke="#000" stroke-width="1.1"/>
<text transform="translate(57.55,460.00) scale(0.9,1)" font-size="9.0" text-anchor="middle" fill="#151515" stroke="#151515" stroke-width="0.12">0</text>
<line x1="72.65" y1="446.50" x2="72.65" y2="449.60" stroke="#000" stroke-width="1.1"/>
<text transform="translate(72.80,460.00) scale(0.9,1)" font-size="9.0" text-anchor="middle" fill="#151515" stroke="#151515" stroke-width="0.12">1</text>
<line x1="87.90" y1="446.50" x2="87.90" y2="449.60" stroke="#000" stroke-width="1.1"/>
<text transform="translate(88.05,460.00) scale(0.9,1)" font-size="9.0" text-anchor="middle" fill="#151515" stroke="#151515" stroke-width="0.12">2</text>
<line x1="103.15" y1="446.50" x2="103.15" y2="449.60" stroke="#000" stroke-width="1.1"/>
<text transform="translate(103.30,460.00) scale(0.9,1)" font-size="9.0" text-anchor="middle" fill="#151515" stroke="#151515" stroke-width="0.12">3</text>
<line x1="118.40" y1="446.50" x2="118.40" y2="449.60" stroke="#000" stroke-width="1.1"/>
<text transform="translate(118.55,460.00) scale(0.9,1)" font-size="9.0" text-anchor="middle" fill="#151515" stroke="#151515" stroke-width="0.12">4</text>
<line x1="133.65" y1="446.50" x2="133.65" y2="449.60" stroke="#000" stroke-width="1.1"/>
<text transform="translate(133.80,460.00) scale(0.9,1)" font-size="9.0" text-anchor="middle" fill="#151515" stroke="#151515" stroke-width="0.12">5</text>
<line x1="148.90" y1="446.50" x2="148.90" y2="449.60" stroke="#000" stroke-width="1.1"/>
<text transform="translate(149.05,460.00) scale(0.9,1)" font-size="9.0" text-anchor="middle" fill="#151515" stroke="#151515" stroke-width="0.12">6</text>
<line x1="164.15" y1="446.50" x2="164.15" y2="449.60" stroke="#000" stroke-width="1.1"/>
<text transform="translate(164.30,460.00) scale(0.9,1)" font-size="9.0" text-anchor="middle" fill="#151515" stroke="#151515" stroke-width="0.12">7</text>
<line x1="179.40" y1="446.50" x2="179.40" y2="449.60" stroke="#000" stroke-width="1.1"/>
<text transform="translate(179.55,460.00) scale(0.9,1)" font-size="9.0" text-anchor="middle" fill="#151515" stroke="#151515" stroke-width="0.12">8</text>
<line x1="194.65" y1="446.50" x2="194.65" y2="449.60" stroke="#000" stroke-width="1.1"/>
<text transform="translate(194.80,460.00) scale(0.9,1)" font-size="9.0" text-anchor="middle" fill="#151515" stroke="#151515" stroke-width="0.12">9</text>
<line x1="209.90" y1="446.50" x2="209.90" y2="449.60" stroke="#000" stroke-width="1.1"/>
<text transform="translate(210.05,460.00) scale(0.9,1)" font-size="9.0" text-anchor="middle" fill="#151515" stroke="#151515" stroke-width="0.12">10</text>
<line x1="225.15" y1="446.50" x2="225.15" y2="449.60" stroke="#000" stroke-width="1.1"/>
<text transform="translate(225.30,460.00) scale(0.9,1)" font-size="9.0" text-anchor="middle" fill="#151515" stroke="#151515" stroke-width="0.12">11</text>
<line x1="240.40" y1="446.50" x2="240.40" y2="449.60" stroke="#000" stroke-width="1.1"/>
<text transform="translate(240.55,460.00) scale(0.9,1)" font-size="9.0" text-anchor="middle" fill="#151515" stroke="#151515" stroke-width="0.12">12</text>
<text transform="translate(128.70,473.60) scale(0.85,1)" font-size="10.2" textLength="57.18" lengthAdjust="spacing" fill="#151515" stroke="#151515" stroke-width="0.12">Time (years)</text>
<text transform="translate(34.60,404.30) rotate(-90) scale(0.83,1)" font-size="10.2" textLength="88.55" lengthAdjust="spacingAndGlyphs" fill="#151515">Survival probability</text>
<path d="M57.40,293.30H70.00V295.21H136.00V297.71H243.60V297.71" fill="none" stroke="#6aa846" stroke-width="1.25"/>
<line x1="73.80" y1="293.11" x2="73.80" y2="297.31" stroke="#6aa846" stroke-width="1.1"/>
<line x1="76.70" y1="293.11" x2="76.70" y2="297.31" stroke="#6aa846" stroke-width="1.1"/>
<line x1="88.70" y1="293.11" x2="88.70" y2="297.31" stroke="#6aa846" stroke-width="1.1"/>
<line x1="90.10" y1="293.11" x2="90.10" y2="297.31" stroke="#6aa846" stroke-width="1.1"/>
<line x1="93.00" y1="293.11" x2="93.00" y2="297.31" stroke="#6aa846" stroke-width="1.1"/>
<line x1="94.50" y1="293.11" x2="94.50" y2="297.31" stroke="#6aa846" stroke-width="1.1"/>
<line x1="99.75" y1="293.11" x2="99.75" y2="297.31" stroke="#6aa846" stroke-width="1.1"/>
<line x1="101.20" y1="293.11" x2="101.20" y2="297.31" stroke="#6aa846" stroke-width="1.1"/>
<line x1="102.90" y1="293.11" x2="102.90" y2="297.31" stroke="#6aa846" stroke-width="1.1"/>
<line x1="104.60" y1="293.11" x2="104.60" y2="297.31" stroke="#6aa846" stroke-width="1.1"/>
<line x1="106.70" y1="293.11" x2="106.70" y2="297.31" stroke="#6aa846" stroke-width="1.1"/>
<line x1="108.70" y1="293.11" x2="108.70" y2="297.31" stroke="#6aa846" stroke-width="1.1"/>
<line x1="110.60" y1="293.11" x2="110.60" y2="297.31" stroke="#6aa846" stroke-width="1.1"/>
<line x1="112.50" y1="293.11" x2="112.50" y2="297.31" stroke="#6aa846" stroke-width="1.1"/>
<line x1="114.40" y1="293.11" x2="114.40" y2="297.31" stroke="#6aa846" stroke-width="1.1"/>
<line x1="116.30" y1="293.11" x2="116.30" y2="297.31" stroke="#6aa846" stroke-width="1.1"/>
<line x1="118.80" y1="293.11" x2="118.80" y2="297.31" stroke="#6aa846" stroke-width="1.1"/>
<line x1="121.20" y1="293.11" x2="121.20" y2="297.31" stroke="#6aa846" stroke-width="1.1"/>
<line x1="122.60" y1="293.11" x2="122.60" y2="297.31" stroke="#6aa846" stroke-width="1.1"/>
<line x1="124.50" y1="293.11" x2="124.50" y2="297.31" stroke="#6aa846" stroke-width="1.1"/>
<line x1="128.80" y1="293.11" x2="128.80" y2="297.31" stroke="#6aa846" stroke-width="1.1"/>
<line x1="130.30" y1="293.11" x2="130.30" y2="297.31" stroke="#6aa846" stroke-width="1.1"/>
<line x1="132.20" y1="293.11" x2="132.20" y2="297.31" stroke="#6aa846" stroke-width="1.1"/>
<line x1="134.10" y1="293.11" x2="134.10" y2="297.31" stroke="#6aa846" stroke-width="1.1"/>
<line x1="139.40" y1="295.61" x2="139.40" y2="299.81" stroke="#6aa846" stroke-width="1.1"/>
<line x1="141.30" y1="295.61" x2="141.30" y2="299.81" stroke="#6aa846" stroke-width="1.1"/>
<line x1="144.20" y1="295.61" x2="144.20" y2="299.81" stroke="#6aa846" stroke-width="1.1"/>
<line x1="147.10" y1="295.61" x2="147.10" y2="299.81" stroke="#6aa846" stroke-width="1.1"/>
<line x1="151.30" y1="295.61" x2="151.30" y2="299.81" stroke="#6aa846" stroke-width="1.1"/>
<line x1="152.90" y1="295.61" x2="152.90" y2="299.81" stroke="#6aa846" stroke-width="1.1"/>
<line x1="155.10" y1="295.61" x2="155.10" y2="299.81" stroke="#6aa846" stroke-width="1.1"/>
<line x1="157.20" y1="295.61" x2="157.20" y2="299.81" stroke="#6aa846" stroke-width="1.1"/>
<line x1="159.30" y1="295.61" x2="159.30" y2="299.81" stroke="#6aa846" stroke-width="1.1"/>
<line x1="161.40" y1="295.61" x2="161.40" y2="299.81" stroke="#6aa846" stroke-width="1.1"/>
<line x1="163.50" y1="295.61" x2="163.50" y2="299.81" stroke="#6aa846" stroke-width="1.1"/>
<line x1="165.60" y1="295.61" x2="165.60" y2="299.81" stroke="#6aa846" stroke-width="1.1"/>
<line x1="167.80" y1="295.61" x2="167.80" y2="299.81" stroke="#6aa846" stroke-width="1.1"/>
<line x1="169.90" y1="295.61" x2="169.90" y2="299.81" stroke="#6aa846" stroke-width="1.1"/>
<line x1="172.00" y1="295.61" x2="172.00" y2="299.81" stroke="#6aa846" stroke-width="1.1"/>
<line x1="174.10" y1="295.61" x2="174.10" y2="299.81" stroke="#6aa846" stroke-width="1.1"/>
<line x1="175.70" y1="295.61" x2="175.70" y2="299.81" stroke="#6aa846" stroke-width="1.1"/>
<line x1="177.30" y1="295.61" x2="177.30" y2="299.81" stroke="#6aa846" stroke-width="1.1"/>
<line x1="178.90" y1="295.61" x2="178.90" y2="299.81" stroke="#6aa846" stroke-width="1.1"/>
<line x1="181.00" y1="295.61" x2="181.00" y2="299.81" stroke="#6aa846" stroke-width="1.1"/>
<line x1="183.10" y1="295.61" x2="183.10" y2="299.81" stroke="#6aa846" stroke-width="1.1"/>
<line x1="185.20" y1="295.61" x2="185.20" y2="299.81" stroke="#6aa846" stroke-width="1.1"/>
<line x1="187.30" y1="295.61" x2="187.30" y2="299.81" stroke="#6aa846" stroke-width="1.1"/>
<line x1="193.70" y1="295.61" x2="193.70" y2="299.81" stroke="#6aa846" stroke-width="1.1"/>
<line x1="195.50" y1="295.61" x2="195.50" y2="299.81" stroke="#6aa846" stroke-width="1.1"/>
<line x1="199.80" y1="295.61" x2="199.80" y2="299.81" stroke="#6aa846" stroke-width="1.1"/>
<line x1="201.30" y1="295.61" x2="201.30" y2="299.81" stroke="#6aa846" stroke-width="1.1"/>
<line x1="203.50" y1="295.61" x2="203.50" y2="299.81" stroke="#6aa846" stroke-width="1.1"/>
<line x1="205.10" y1="295.61" x2="205.10" y2="299.81" stroke="#6aa846" stroke-width="1.1"/>
<line x1="207.20" y1="295.61" x2="207.20" y2="299.81" stroke="#6aa846" stroke-width="1.1"/>
<line x1="210.30" y1="295.61" x2="210.30" y2="299.81" stroke="#6aa846" stroke-width="1.1"/>
<line x1="218.00" y1="295.61" x2="218.00" y2="299.81" stroke="#6aa846" stroke-width="1.1"/>
<line x1="243.30" y1="295.61" x2="243.30" y2="299.81" stroke="#6aa846" stroke-width="1.1"/>
<path d="M57.40,293.30H84.40V297.71H85.30V301.38H108.20V306.38H219.50V306.38" fill="none" stroke="#861232" stroke-width="1.25"/>
<line x1="75.20" y1="291.20" x2="75.20" y2="295.40" stroke="#861232" stroke-width="1.1"/>
<line x1="88.70" y1="299.28" x2="88.70" y2="303.49" stroke="#861232" stroke-width="1.1"/>
<line x1="100.70" y1="299.28" x2="100.70" y2="303.49" stroke="#861232" stroke-width="1.1"/>
<line x1="103.00" y1="299.28" x2="103.00" y2="303.49" stroke="#861232" stroke-width="1.1"/>
<line x1="104.80" y1="299.28" x2="104.80" y2="303.49" stroke="#861232" stroke-width="1.1"/>
<line x1="109.60" y1="304.28" x2="109.60" y2="308.48" stroke="#861232" stroke-width="1.1"/>
<line x1="111.50" y1="304.28" x2="111.50" y2="308.48" stroke="#861232" stroke-width="1.1"/>
<line x1="116.80" y1="304.28" x2="116.80" y2="308.48" stroke="#861232" stroke-width="1.1"/>
<line x1="119.20" y1="304.28" x2="119.20" y2="308.48" stroke="#861232" stroke-width="1.1"/>
<line x1="128.80" y1="304.28" x2="128.80" y2="308.48" stroke="#861232" stroke-width="1.1"/>
<line x1="130.80" y1="304.28" x2="130.80" y2="308.48" stroke="#861232" stroke-width="1.1"/>
<line x1="133.70" y1="304.28" x2="133.70" y2="308.48" stroke="#861232" stroke-width="1.1"/>
<line x1="136.10" y1="304.28" x2="136.10" y2="308.48" stroke="#861232" stroke-width="1.1"/>
<line x1="139.40" y1="304.28" x2="139.40" y2="308.48" stroke="#861232" stroke-width="1.1"/>
<line x1="145.20" y1="304.28" x2="145.20" y2="308.48" stroke="#861232" stroke-width="1.1"/>
<line x1="147.10" y1="304.28" x2="147.10" y2="308.48" stroke="#861232" stroke-width="1.1"/>
<line x1="148.70" y1="304.28" x2="148.70" y2="308.48" stroke="#861232" stroke-width="1.1"/>
<line x1="155.60" y1="304.28" x2="155.60" y2="308.48" stroke="#861232" stroke-width="1.1"/>
<line x1="157.20" y1="304.28" x2="157.20" y2="308.48" stroke="#861232" stroke-width="1.1"/>
<line x1="158.80" y1="304.28" x2="158.80" y2="308.48" stroke="#861232" stroke-width="1.1"/>
<line x1="164.60" y1="304.28" x2="164.60" y2="308.48" stroke="#861232" stroke-width="1.1"/>
<line x1="165.60" y1="304.28" x2="165.60" y2="308.48" stroke="#861232" stroke-width="1.1"/>
<line x1="193.70" y1="304.28" x2="193.70" y2="308.48" stroke="#861232" stroke-width="1.1"/>
<line x1="194.70" y1="304.28" x2="194.70" y2="308.48" stroke="#861232" stroke-width="1.1"/>
<line x1="200.30" y1="304.28" x2="200.30" y2="308.48" stroke="#861232" stroke-width="1.1"/>
<line x1="205.10" y1="304.28" x2="205.10" y2="308.48" stroke="#861232" stroke-width="1.1"/>
<line x1="218.50" y1="304.28" x2="218.50" y2="308.48" stroke="#861232" stroke-width="1.1"/>
<text transform="translate(84.70,409.60) scale(0.85,1)" font-size="9.0" textLength="65.88" lengthAdjust="spacing" fill="#151515" stroke="#151515" stroke-width="0.12">P-value= 0.0865</text>
<line x1="84.20" y1="417.90" x2="102.70" y2="417.90" stroke="#6aa846" stroke-width="1.15"/>
<text transform="translate(105.40,420.90) scale(0.85,1)" font-size="9.0" textLength="105.06" lengthAdjust="spacing" fill="#151515" stroke="#151515" stroke-width="0.12">TLGt Low (E / N = 3 / 140)</text>
<line x1="84.20" y1="429.30" x2="102.70" y2="429.30" stroke="#861232" stroke-width="1.15"/>
<text transform="translate(105.40,432.30) scale(0.85,1)" font-size="9.0" textLength="96.82" lengthAdjust="spacing" fill="#151515" stroke="#151515" stroke-width="0.12">TLGt High (E / N = 3 / 38)</text>
<text transform="translate(55.50,486.30) scale(0.85,1)" font-size="9.0" textLength="217.41" lengthAdjust="spacing" fill="#151515" stroke="#151515" stroke-width="0.12">Number of patients at risk at 0, 2, 4, 6, 8, and 10 years</text>
<text transform="translate(8.80,497.60) scale(0.86,1)" font-size="9.0" fill="#151515" stroke="#151515" stroke-width="0.12">TLGt Low</text>
<text transform="translate(55.50,497.60) scale(0.86,1)" font-size="9.0" fill="#151515" stroke="#151515" stroke-width="0.12">140</text>
<text transform="translate(86.25,497.60) scale(0.86,1)" font-size="9.0" fill="#151515" stroke="#151515" stroke-width="0.12">128</text>
<text transform="translate(116.25,497.60) scale(0.86,1)" font-size="9.0" fill="#151515" stroke="#151515" stroke-width="0.12">86</text>
<text transform="translate(146.25,497.60) scale(0.86,1)" font-size="9.0" fill="#151515" stroke="#151515" stroke-width="0.12">50</text>
<text transform="translate(177.00,497.60) scale(0.86,1)" font-size="9.0" fill="#151515" stroke="#151515" stroke-width="0.12">27</text>
<text transform="translate(205.50,497.60) scale(0.86,1)" font-size="9.0" fill="#151515" stroke="#151515" stroke-width="0.12">5</text>
<text transform="translate(8.80,509.35) scale(0.86,1)" font-size="9.0" fill="#151515" stroke="#151515" stroke-width="0.12">TLGt High</text>
<text transform="translate(55.50,509.35) scale(0.86,1)" font-size="9.0" fill="#151515" stroke="#151515" stroke-width="0.12">38</text>
<text transform="translate(86.25,509.35) scale(0.86,1)" font-size="9.0" fill="#151515" stroke="#151515" stroke-width="0.12">35</text>
<text transform="translate(116.25,509.35) scale(0.86,1)" font-size="9.0" fill="#151515" stroke="#151515" stroke-width="0.12">23</text>
<text transform="translate(146.25,509.35) scale(0.86,1)" font-size="9.0" fill="#151515" stroke="#151515" stroke-width="0.12">10</text>
<text transform="translate(177.00,509.35) scale(0.86,1)" font-size="9.0" fill="#151515" stroke="#151515" stroke-width="0.12">6</text>
<text transform="translate(205.50,509.35) scale(0.86,1)" font-size="9.0" fill="#151515" stroke="#151515" stroke-width="0.12">1</text>
<rect x="0" y="0" width="1.5" height="518" fill="#000"/>
<rect x="0" y="0" width="520" height="1.4" fill="#000"/>
<rect x="518.6" y="0" width="1.4" height="518" fill="#000"/>
<rect x="0" y="516.3" width="520" height="1.7" fill="#000"/>
</svg>
</body></html>
